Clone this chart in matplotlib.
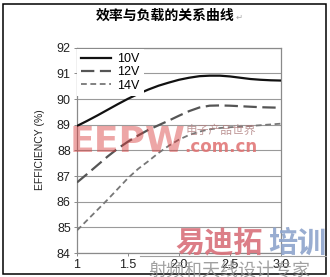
import matplotlib
matplotlib.use("Agg")
import matplotlib.pyplot as plt
from matplotlib.patches import Rectangle
from matplotlib.lines import Line2D

# ---- data ----
load = [1.0, 1.1, 1.2, 1.3, 1.4, 1.5, 1.6, 1.7, 1.8, 1.9, 2.0,
        2.1, 2.2, 2.3, 2.4, 2.5, 2.6, 2.7, 2.8, 2.9, 3.0]
eff_10v = [88.95, 89.15, 89.36, 89.58, 89.80, 90.01, 90.20, 90.37, 90.52, 90.64, 90.75,
           90.83, 90.89, 90.91, 90.91, 90.88, 90.83, 90.78, 90.75, 90.73, 90.72]
eff_12v = [86.75, 87.08, 87.42, 87.76, 88.07, 88.34, 88.58, 88.80, 88.98, 89.16, 89.35,
           89.53, 89.67, 89.74, 89.75, 89.74, 89.72, 89.70, 89.68, 89.67, 89.66]
eff_14v = [84.88, 85.28, 85.68, 86.08, 86.50, 86.92, 87.28, 87.58, 87.90, 88.18, 88.42,
           88.60, 88.73, 88.82, 88.87, 88.90, 88.92, 88.95, 88.98, 89.01, 89.04]
series_labels = ["10V", "12V", "14V"]
x_ticks = [1.0, 1.5, 2.0, 2.5, 3.0]
x_tick_labels = ["1", "1.5", "2.0", "2.5", "3.0"]
y_ticks = [84, 85, 86, 87, 88, 89, 90, 91, 92]
title = "效率与负载的关系曲线"
ylabel = "EFFICIENCY (%)"

W, H = 330, 277
fig = plt.figure(figsize=(W / 100, H / 100), dpi=100)
fig.patch.set_facecolor("white")

num_font = ["Liberation Sans Narrow", "Liberation Sans", "DejaVu Sans"]
cjk = ["Noto Sans CJK SC", "DejaVu Sans"]

# outer frame
fig.patches.append(Rectangle((3 / W, 3.5 / H), 322.5 / W, 270 / H, transform=fig.transFigure,
                             fill=False, edgecolor="black", linewidth=1.1, zorder=0))

ax = fig.add_axes([77 / W, 1 - 253 / H, 204 / W, 205.3 / H])
ax.set_xlim(1.0, 3.0)
ax.set_ylim(84, 92)

ax.plot(load, eff_10v, color="#111111", lw=1.6, label=series_labels[0], zorder=3)
ax.plot(load, eff_12v, color="#555555", lw=1.6, dashes=(6, 2.5), label=series_labels[1], zorder=3)
ax.plot(load, eff_14v, color="#777777", lw=1.3, dashes=(3.2, 2), label=series_labels[2], zorder=3)

ax.set_xticks(x_ticks)
ax.set_xticklabels(x_tick_labels)
ax.set_yticks(y_ticks)
ax.yaxis.grid(True, color="#9a9a9a", lw=0.8)
ax.set_axisbelow(True)
for s in ax.spines.values():
    s.set_color("#8a8a8a")
    s.set_linewidth(0.9)
ax.tick_params(axis="both", length=2, width=0.7, color="#8a8a8a", pad=2.5, labelsize=9)
for lab in ax.get_xticklabels() + ax.get_yticklabels():
    lab.set_family(num_font)
    lab.set_color("#222222")

fig.text(40 / W, 1 - 150 / H, ylabel, rotation=90, ha="center", va="center",
         fontsize=7.5, family=num_font, color="#222222")

leg = ax.legend(loc="upper left", bbox_to_anchor=(0.0, 0.995), frameon=True,
                facecolor="white", edgecolor="none", framealpha=1, fancybox=False,
                handlelength=2.4, handletextpad=0.45, labelspacing=0.1,
                borderpad=0.35, borderaxespad=0.0,
                prop={"family": num_font, "size": 9})
leg.set_zorder(4)

# title
fig.text(165 / W, 1 - 16 / H, title, ha="center", va="center", fontsize=10,
         fontweight="bold", family=cjk)
fig.text(239 / W, 1 - 17 / H, "↵", ha="center", va="center", fontsize=6,
         color="#aaaaaa", family=["DejaVu Sans"])

# watermarks
fig.text(70 / W, 1 - 152 / H, "EEPW", ha="left", va="baseline", fontsize=26,
         fontweight="bold", color="#d83a3a", alpha=0.45, family=["DejaVu Sans"], zorder=5)
fig.text(186 / W, 1 - 130 / H, "电子产品世界", ha="left", va="center", fontsize=8.5,
         color="#b08080", alpha=0.8, family=cjk, zorder=5)
fig.text(184 / W, 1 - 147 / H, ".com.cn", ha="left", va="center", fontsize=12,
         fontweight="bold", color="#e07070", alpha=0.85, family=["DejaVu Sans"], zorder=5)
fig.text(175 / W, 1 - 243 / H, "易迪拓", ha="left", va="center", fontsize=21,
         fontweight="bold", color="#d9707a", alpha=0.9, family=cjk, zorder=5)
fig.text(268 / W, 1 - 243 / H, "培训", ha="left", va="center", fontsize=21,
         fontweight="bold", color="#8ea4cc", alpha=0.9, family=cjk, zorder=5)
fig.add_artist(Line2D([140 / W, 326 / W], [1 - 256 / H, 1 - 256 / H],
                      transform=fig.transFigure, color="#a0a0a0", lw=0.8))
fig.text(148 / W, 1 - 271 / H, "射频和天线设计专家", ha="left", va="center", fontsize=13,
         color="#909090", alpha=0.85, family=cjk, zorder=5)

fig.savefig("out.png", dpi=100)
